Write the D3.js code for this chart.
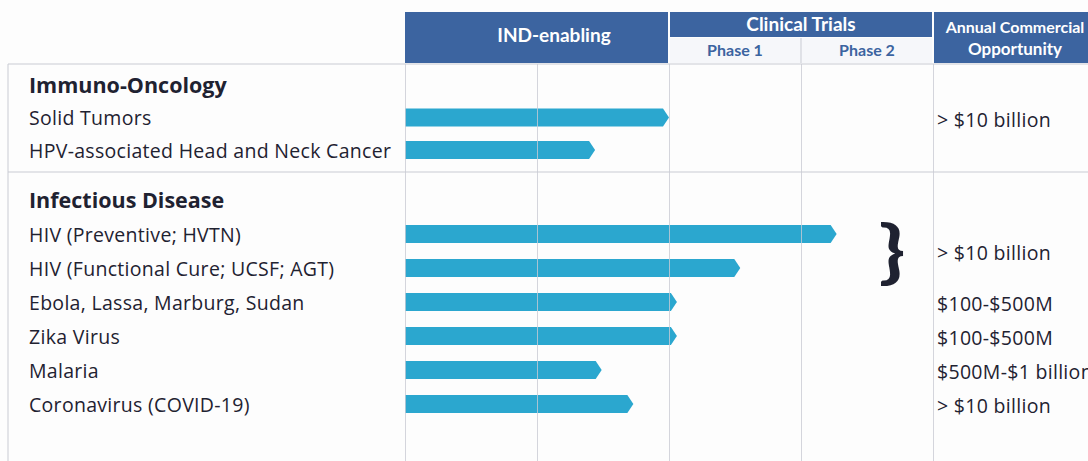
<!DOCTYPE html>
<html>
<head>
<meta charset="utf-8">
<script src="https://cdn.jsdelivr.net/npm/d3@7"></script>
<style>
  body { margin: 0; background: #fdfdfd; }
  svg { display: block; font-family: "Open Sans", Lato, sans-serif; }
  .hdr { font-family: Lato, sans-serif; }
</style>
</head>
<body>
<svg id="chart" width="1088" height="461"></svg>
<script>
// data
const groups = ["Immuno-Oncology", "Infectious Disease"];
const programs = [
  "Solid Tumors",
  "HPV-associated Head and Neck Cancer",
  "HIV (Preventive; HVTN)",
  "HIV (Functional Cure; UCSF; AGT)",
  "Ebola, Lassa, Marburg, Sudan",
  "Zika Virus",
  "Malaria",
  "Coronavirus (COVID-19)"
];
const programGroup = [0, 0, 1, 1, 1, 1, 1, 1];
// progress in stage units: 0 = start of IND-enabling, 2 = Phase 1 start, 3 = Phase 2 start, 4 = end
const progress = [2.0, 1.44, 3.27, 2.54, 2.06, 2.06, 1.49, 1.73];
const opportunity = ["> $10 billion", null, "> $10 billion", null, "$100-$500M", "$100-$500M", "$500M-$1 billion", "> $10 billion"];
const opportunitySpan = [1, 0, 2, 0, 1, 1, 1, 1];
const stageTicks = [0, 1, 2, 3, 4];
const phaseLabels = ["Phase 1", "Phase 2"];

const svg = d3.select("#chart");
const width = +svg.attr("width");
const height = +svg.attr("height");

const blue = "#3c64a0";
const barColor = "#2ba7cf";
const gridColor = "#c9cbd3";
const textColor = "#1f2231";

const x = d3.scaleLinear().domain([0, 4]).range([405, 933]);

// row layout per group
const groupTop = [85, 200];
const rowStep = [32.5, 34];
const rowY = programs.map((p, i) => {
  const g = programGroup[i];
  const idx = programs.filter((q, j) => j <= i && programGroup[j] === g).length;
  return groupTop[g] + idx * rowStep[g];
});

// header
const header = svg.append("g").attr("class", "hdr");
header.append("rect").attr("x", x(0)).attr("y", 12).attr("width", x(2) - x(0) - 1).attr("height", 51).attr("fill", blue);
header.append("rect").attr("x", x(2) + 1).attr("y", 12).attr("width", x(4) - x(2) - 2).attr("height", 25).attr("fill", blue);
header.append("rect").attr("x", x(2) + 1).attr("y", 38).attr("width", x(4) - x(2) - 2).attr("height", 25).attr("fill", "#f6f7fa");
header.append("line").attr("x1", x(3)).attr("x2", x(3)).attr("y1", 38).attr("y2", 63).attr("stroke", gridColor);
header.append("rect").attr("x", x(4) + 1).attr("y", 12).attr("width", width - x(4)).attr("height", 51).attr("fill", blue);

header.append("text").attr("x", 554).attr("y", 42).attr("text-anchor", "middle")
  .attr("fill", "#fff").attr("font-weight", 700).attr("font-size", 19).text("IND-enabling");
header.append("text").attr("x", (x(2) + x(4)) / 2).attr("y", 31).attr("text-anchor", "middle")
  .attr("fill", "#fff").attr("font-weight", 700).attr("font-size", 19).text("Clinical Trials");
header.selectAll(".phase").data(phaseLabels).join("text")
  .attr("x", (d, i) => (x(2 + i) + x(3 + i)) / 2).attr("y", 56).attr("text-anchor", "middle")
  .attr("fill", blue).attr("font-weight", 700).attr("font-size", 16).text(d => d);
header.append("text").attr("x", 1015).attr("y", 33).attr("text-anchor", "middle")
  .attr("fill", "#fff").attr("font-weight", 700).attr("font-size", 16).text("Annual Commercial");
header.append("text").attr("x", 1015).attr("y", 55).attr("text-anchor", "middle")
  .attr("fill", "#fff").attr("font-weight", 700).attr("font-size", 17).text("Opportunity");

// bars
svg.append("g").selectAll("path").data(programs).join("path")
  .attr("d", (d, i) => {
    const y = rowY[i], x0 = x(0), xe = x(progress[i]);
    return `M${x0},${y - 9}L${xe - 6},${y - 9}L${xe},${y}L${xe - 6},${y + 9}L${x0},${y + 9}Z`;
  })
  .attr("fill", barColor);

// grid lines
const grid = svg.append("g");
grid.append("g")
  .attr("transform", "translate(0,64)")
  .call(d3.axisBottom(x).tickValues(stageTicks).tickSize(height - 64).tickFormat(""))
  .call(g => g.select(".domain").remove())
  .call(g => g.selectAll("line").attr("stroke", gridColor).attr("stroke-opacity", 0.8));
grid.append("line").attr("x1", 8).attr("x2", 8).attr("y1", 64).attr("y2", height).attr("stroke", gridColor);
grid.append("line").attr("x1", 8).attr("x2", width).attr("y1", 64).attr("y2", 64).attr("stroke", gridColor);
grid.append("line").attr("x1", 8).attr("x2", width).attr("y1", 172).attr("y2", 172).attr("stroke", gridColor);

// group titles and program labels
svg.append("g").selectAll("text").data(groups).join("text")
  .attr("x", 29).attr("y", (d, i) => groupTop[i] + 8)
  .attr("fill", textColor).attr("font-weight", 700).attr("font-size", 21.5).text(d => d);
svg.append("g").selectAll("text").data(programs).join("text")
  .attr("x", 29).attr("y", (d, i) => rowY[i] + 7.5)
  .attr("fill", textColor).attr("font-size", 19.5).attr("letter-spacing", 0.3).text(d => d);

// opportunity
const oppRows = opportunity.map((d, i) => ({ label: d, y: d3.mean(rowY.slice(i, i + opportunitySpan[i])), span: opportunitySpan[i] }))
  .filter(d => d.label !== null);
svg.append("g").selectAll("text").data(oppRows).join("text")
  .attr("x", 937)
  .attr("y", d => d.y + 9)
  .attr("fill", textColor).attr("font-size", 19.5).attr("letter-spacing", 0.3).text(d => d.label);

// brace for spans
svg.append("g").selectAll("text").data(oppRows.filter(d => d.span > 1)).join("text")
  .attr("transform", d => `translate(892,${d.y + 24}) scale(1.3,1)`)
  .attr("text-anchor", "middle").attr("fill", textColor)
  .attr("font-family", "Lato, sans-serif").attr("font-weight", 700)
  .attr("font-size", 68).text("}");
</script>
</body>
</html>
